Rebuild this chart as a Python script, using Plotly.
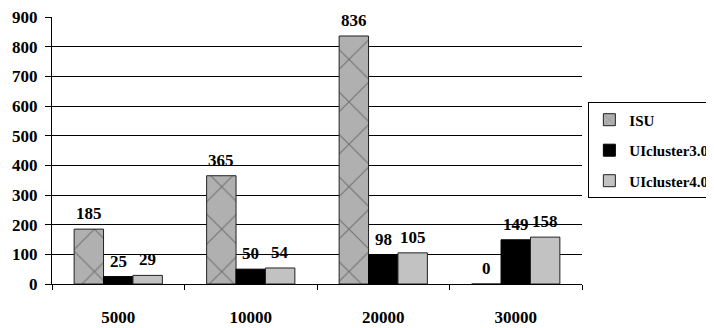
import plotly.graph_objects as go

categories = ["5000", "10000", "20000", "30000"]
isu = [185, 365, 836, 0]
ui3 = [25, 50, 98, 149]
ui4 = [29, 54, 105, 158]
series_names = ["ISU", "UIcluster3.0", "UIcluster4.0"]
y_ticks = [0, 100, 200, 300, 400, 500, 600, 700, 800, 900]

FONT = "Liberation Serif"
TXT = dict(family=FONT, size=17, color="black", weight="bold")
LEG = dict(family=FONT, size=15, color="black", weight="bold")

fig = go.Figure()
fig.add_trace(go.Bar(
    x=categories, y=isu, name=series_names[0], legendgroup="a",
    marker=dict(color="#b0b0b0", line=dict(color="#222", width=1),
                pattern=dict(shape="x", size=30, solidity=0.07, fgcolor="#333",
                             bgcolor="#b0b0b0", fillmode="overlay")),
))
fig.add_trace(go.Bar(
    x=categories, y=ui3, name=series_names[1], legendgroup="b",
    marker=dict(color="#000000", line=dict(color="#000", width=1)),
))
fig.add_trace(go.Bar(
    x=categories, y=ui4, name=series_names[2], legendgroup="c",
    marker=dict(color="#c2c2c2", line=dict(color="#222", width=1)),
))

# value labels above bars (x given as category index)
offsets = [-1, 0, 1]
for vals, off in zip([isu, ui3, ui4], offsets):
    for i, v in enumerate(vals):
        fig.add_annotation(
            x=i, y=v, xref="x", yref="y", text=str(v), showarrow=False,
            xshift=off * 29.5, yshift=4, yanchor="bottom",
            font=TXT,
        )

# page body adds an 8px offset; margins compensate for it
fig.update_layout(
    width=714, height=328,
    margin=dict(l=44, r=140, t=9, b=52, autoexpand=False),
    paper_bgcolor="white", plot_bgcolor="white",
    barmode="group", bargap=0.334, bargroupgap=0,
    showlegend=True,
    legend=dict(
        x=1.012, xanchor="left", y=0.68, yanchor="top",
        bordercolor="black", borderwidth=1, bgcolor="white",
        font=LEG, tracegroupgap=8,
    ),
    font=TXT,
)
fig.update_xaxes(
    type="category", range=[-0.5, 3.5], showline=True, linecolor="black", linewidth=1,
    ticks="outside", tickson="boundaries", ticklen=5, tickcolor="black",
    showgrid=False, tickfont=TXT, ticklabelstandoff=18, automargin=False,
)
fig.update_yaxes(
    range=[0, 900], tickvals=y_ticks, showline=True, linecolor="black", linewidth=1,
    ticks="outside", ticklen=6, tickcolor="black",
    showgrid=True, gridcolor="black", gridwidth=1, zeroline=False,
    tickfont=TXT, ticklabelstandoff=4, automargin=False,
    ticklabeloverflow="allow",
)

fig.write_html("out.html")
